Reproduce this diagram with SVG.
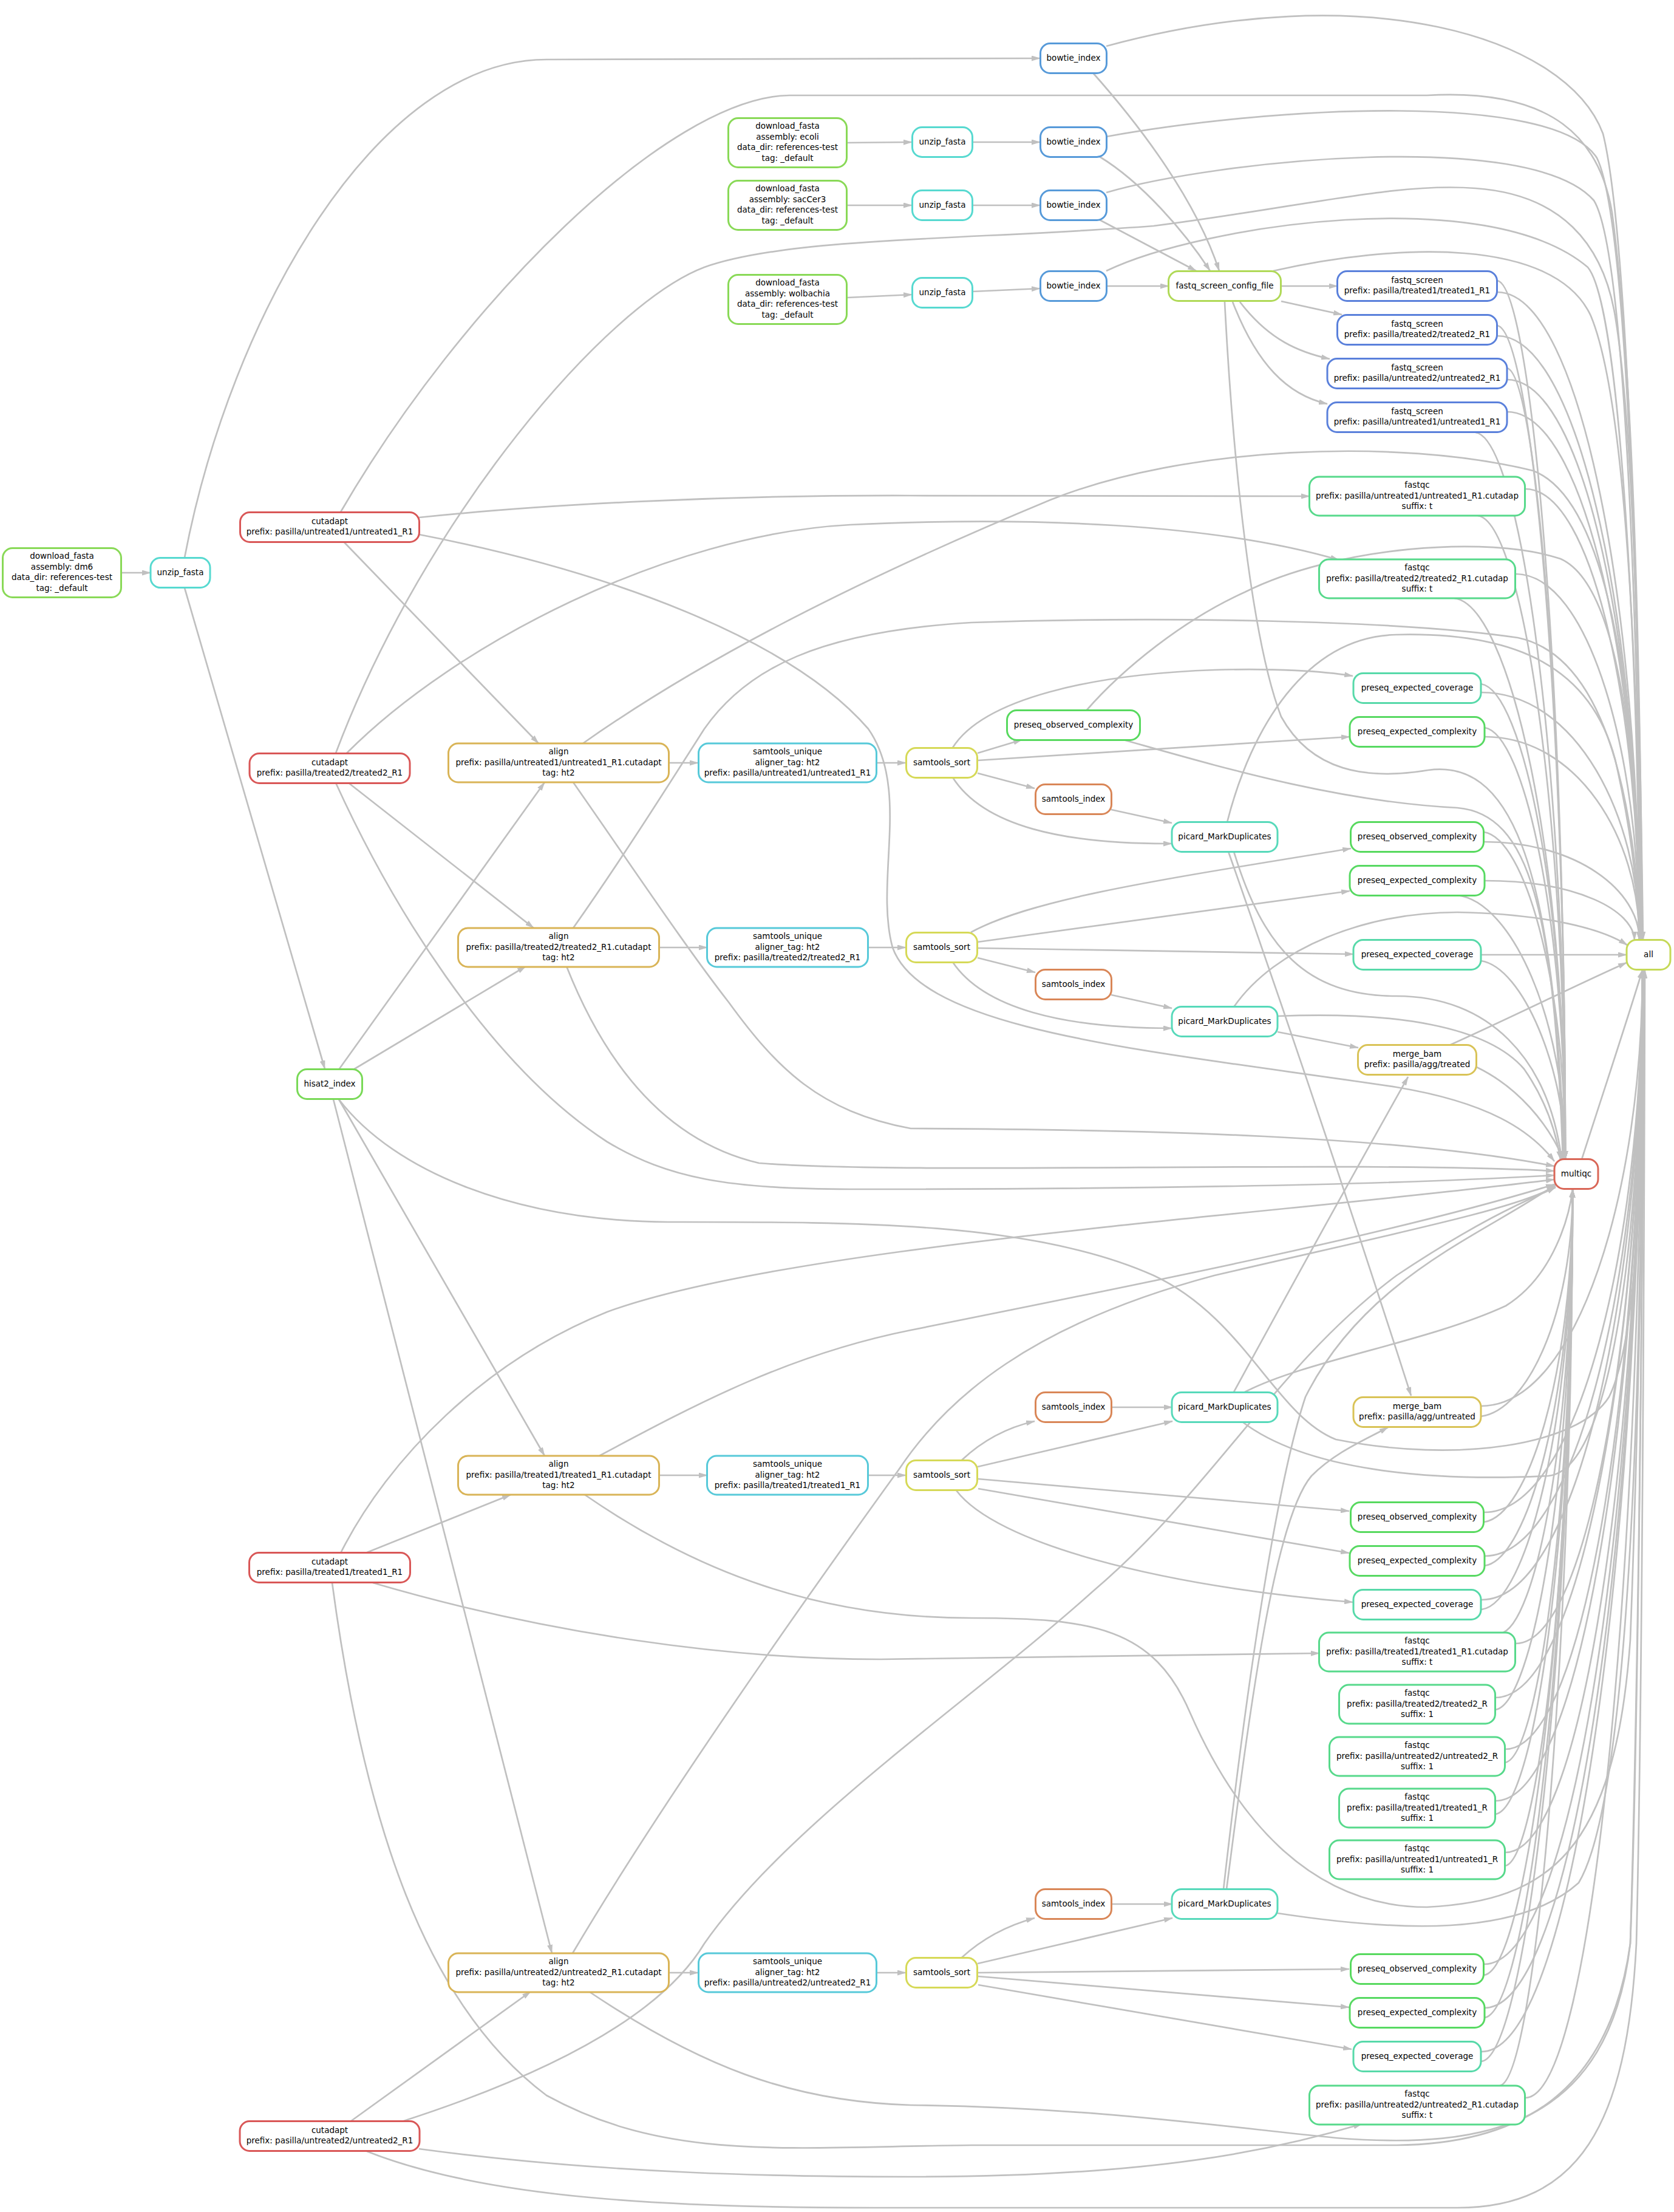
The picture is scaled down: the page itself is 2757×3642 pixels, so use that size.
<svg xmlns="http://www.w3.org/2000/svg" width="2757" height="3642" viewBox="0 0 2757 3642">
<style>
.n rect{fill:#fff;stroke-width:3}
text{font-family:"DejaVu Sans","Liberation Sans",sans-serif;font-size:13.5px;text-anchor:middle;fill:#000}
#edges path{fill:none;stroke:#c0c0c0;stroke-width:2.7;marker-end:url(#ah)}
.dl rect{stroke:#89D957}.uz rect{stroke:#57D9D0}.bt rect{stroke:#579AD9}.fs rect{stroke:#5A80DB}.cf rect{stroke:#B0D957}.fq rect{stroke:#57D98B}.pec rect{stroke:#57D9A9}.poc rect{stroke:#57D95E}.pex rect{stroke:#57D962}.al rect{stroke:#D9B457}.su rect{stroke:#57C9D9}.ss rect{stroke:#D6D957}.si rect{stroke:#D98657}.pic rect{stroke:#57D9BA}.mg rect{stroke:#D9C357}.all rect{stroke:#C5D957}.mq rect{stroke:#D96657}.hs rect{stroke:#79D957}.cu rect{stroke:#D95757}
</style>
<defs>
<marker id="ah" viewBox="0 0 15 9" refX="14" refY="4.5" markerWidth="15" markerHeight="9" markerUnits="userSpaceOnUse" orient="auto"><path d="M0,0 L15,4.5 L0,9 z" fill="#c0c0c0"/></marker>
</defs>
<rect x="0" y="0" width="2757" height="3642" fill="#fff"/>
<g id="edges">
<path d="M200,943 L248,943"/>
<path d="M304,918 C380,520 620,98 900,98 L1713,96"/>
<path d="M304,968 L535,1760"/>
<path d="M1395,235 L1502,234"/>
<path d="M1601,234 L1713,234"/>
<path d="M1395,338 L1502,338"/>
<path d="M1601,338 L1713,338"/>
<path d="M1395,490 L1502,485"/>
<path d="M1601,480 L1713,475"/>
<path d="M1822,471 L1925,471"/>
<path d="M1800,120 C1880,210 1970,330 2008,446"/>
<path d="M1811,258 C1880,300 1950,380 1993,446"/>
<path d="M1811,362 L1970,446"/>
<path d="M2110,471 L2203,471"/>
<path d="M2110,496 L2210,518"/>
<path d="M2042,497 C2090,560 2140,580 2190,591"/>
<path d="M2030,497 C2070,600 2120,650 2186,665"/>
<path d="M1822,76 C2250,-40 2580,60 2640,220 C2680,380 2700,1000 2704,1548"/>
<path d="M1822,225 C2100,175 2560,150 2630,260 C2680,360 2700,1000 2703,1548"/>
<path d="M1822,317 C2000,265 2520,210 2625,330 C2675,410 2698,1000 2702,1548"/>
<path d="M1822,446 C1980,370 2450,300 2615,440 C2665,500 2696,1000 2701,1548"/>
<path d="M2097,446 C2300,400 2560,390 2620,520 C2670,640 2697,1000 2702,1548"/>
<path d="M2017,497 C2030,750 2060,1050 2110,1180 C2160,1270 2250,1285 2352,1268 C2480,1250 2560,1400 2576,1909"/>
<path d="M561,843 C760,500 1100,160 1300,157 L2350,157 C2560,145 2635,230 2655,350 C2688,600 2700,1000 2705,1548"/>
<path d="M553,1240 C700,850 1000,500 1160,440 C1300,390 1600,395 1900,372 C2150,340 2300,300 2430,310 C2570,320 2640,400 2660,520 C2690,700 2700,1100 2706,1548"/>
<path d="M690,852 C900,830 1200,815 1500,816 L2157,817"/>
<path d="M571,1240 C750,1060 1100,880 1400,864 C1700,850 2000,862 2205,922"/>
<path d="M567,893 L887,1224"/>
<path d="M574,1289 L879,1528"/>
<path d="M558,1761 L897,1288"/>
<path d="M582,1761 L866,1591"/>
<path d="M558,1810 L897,2397"/>
<path d="M549,1810 L909,3216"/>
<path d="M602,2557 L841,2461"/>
<path d="M577,3493 L874,3279"/>
<path d="M1101,1256 L1150,1256"/>
<path d="M1085,1560 L1165,1560"/>
<path d="M1085,2429 L1165,2429"/>
<path d="M1101,3248 L1150,3248"/>
<path d="M1443,1256 L1492,1256"/>
<path d="M1430,1560 L1492,1560"/>
<path d="M1430,2429 L1492,2429"/>
<path d="M1443,3248 L1492,3248"/>
<path d="M1610,1240 L1683,1218"/>
<path d="M1610,1252 L2223,1213"/>
<path d="M1569,1231 C1620,1150 1800,1110 2000,1103 C2100,1100 2180,1105 2228,1113"/>
<path d="M1610,1273 L1704,1298"/>
<path d="M1569,1280 C1620,1360 1750,1390 1930,1389"/>
<path d="M1599,1535 C1700,1480 1900,1450 2225,1397"/>
<path d="M1610,1551 L2223,1467"/>
<path d="M1610,1561 L2229,1571"/>
<path d="M1610,1577 L1705,1601"/>
<path d="M1569,1584 C1620,1660 1750,1693 1930,1693"/>
<path d="M1584,2404 C1620,2370 1660,2350 1704,2340"/>
<path d="M1610,2415 L1931,2340"/>
<path d="M1611,2435 L2222,2488"/>
<path d="M1611,2451 L2222,2557"/>
<path d="M1575,2454 C1640,2540 1900,2610 2228,2638"/>
<path d="M1584,3223 C1620,3190 1660,3170 1704,3158"/>
<path d="M1610,3233 L1931,3158"/>
<path d="M1611,3248 L2222,3242"/>
<path d="M1611,3254 L2222,3305"/>
<path d="M1611,3268 L2226,3374"/>
<path d="M1830,1333 L1930,1355"/>
<path d="M1830,1638 L1930,1660"/>
<path d="M1830,2317 L1931,2317"/>
<path d="M1830,3135 L1931,3135"/>
<path d="M2023,1402 Q2180,1850 2324,2298"/>
<path d="M2104,1699 L2237,1725"/>
<path d="M2032,2292 Q2180,2020 2319,1773"/>
<path d="M2020,3111 C2060,2800 2100,2500 2160,2430 C2200,2390 2250,2370 2286,2350"/>
<path d="M1789,1170 C1850,1100 1950,1020 2050,975 C2200,900 2450,880 2570,920 C2660,960 2695,1200 2702,1548"/>
<path d="M1850,1218 C2000,1260 2200,1320 2400,1330 C2520,1340 2560,1500 2574,1909"/>
<path d="M2021,1354 C2060,1200 2150,1048 2300,1045 C2500,1040 2620,1100 2660,1250 C2690,1380 2698,1480 2700,1548"/>
<path d="M2032,1402 C2080,1560 2150,1640 2300,1640 C2450,1640 2550,1740 2572,1909"/>
<path d="M2032,1658 C2100,1560 2250,1502 2400,1502 C2550,1505 2640,1530 2680,1556"/>
<path d="M2104,1673 C2300,1665 2450,1690 2510,1760 C2545,1810 2562,1860 2570,1909"/>
<path d="M2387,1721 C2500,1670 2600,1620 2679,1585"/>
<path d="M2432,1757 C2500,1790 2550,1850 2575,1909"/>
<path d="M2046,2341 C2150,2420 2350,2440 2550,2430 C2660,2420 2703,2000 2705,1597"/>
<path d="M2050,2292 C2150,2240 2350,2210 2480,2150 C2560,2100 2585,2000 2590,1958"/>
<path d="M2104,3150 C2300,3180 2500,3190 2600,3100 C2690,2950 2705,2200 2705,1597"/>
<path d="M2015,3111 C2050,2800 2100,2450 2150,2300 C2250,2100 2450,2030 2562,1950"/>
<path d="M2466,481 C2606,481 2700,1015 2700,1548"/>
<path d="M2466,462 C2522,472 2578,1113 2578,1909"/>
<path d="M2466,553 C2606,553 2700,1050 2700,1548"/>
<path d="M2466,536 C2522,546 2578,1154 2578,1909"/>
<path d="M2482,625 C2613,625 2700,1086 2700,1548"/>
<path d="M2482,606 C2530,616 2578,1192 2578,1909"/>
<path d="M2482,678 C2613,678 2700,1113 2700,1548"/>
<path d="M2430,712 C2504,722 2578,1251 2578,1909"/>
<path d="M2512,805 C2625,805 2700,1176 2700,1548"/>
<path d="M2434,849 C2506,859 2578,1326 2578,1909"/>
<path d="M2496,945 C2618,945 2700,1246 2700,1548"/>
<path d="M2395,985 C2486,995 2578,1401 2578,1909"/>
<path d="M2439,1140 C2596,1140 2700,1344 2700,1548"/>
<path d="M2439,1126 C2508,1136 2578,1478 2578,1909"/>
<path d="M2445,1213 C2598,1213 2700,1380 2700,1548"/>
<path d="M2445,1198 C2511,1208 2578,1518 2578,1909"/>
<path d="M2444,1386 C2598,1386 2700,1467 2700,1548"/>
<path d="M2444,1370 C2511,1380 2578,1613 2578,1909"/>
<path d="M2445,1450 C2598,1450 2690,1499 2692,1548"/>
<path d="M2400,1474 C2489,1484 2578,1677 2578,1909"/>
<path d="M2439,1572 L2679,1572"/>
<path d="M2439,1582 C2508,1592 2578,1762 2578,1909"/>
<path d="M2439,2315 C2599,2315 2705,1956 2705,1597"/>
<path d="M2439,2332 C2515,2322 2590,2164 2590,1958"/>
<path d="M2444,2490 C2601,2490 2705,2044 2705,1597"/>
<path d="M2444,2506 C2517,2496 2590,2261 2590,1958"/>
<path d="M2445,2562 C2601,2562 2705,2080 2705,1597"/>
<path d="M2445,2578 C2517,2568 2590,2299 2590,1958"/>
<path d="M2440,2634 C2599,2634 2705,2116 2705,1597"/>
<path d="M2440,2650 C2515,2640 2590,2339 2590,1958"/>
<path d="M2496,2706 C2621,2706 2705,2152 2705,1597"/>
<path d="M2470,2690 C2530,2680 2590,2361 2590,1958"/>
<path d="M2463,2795 C2608,2795 2705,2196 2705,1597"/>
<path d="M2463,2815 C2526,2805 2590,2430 2590,1958"/>
<path d="M2479,2880 C2615,2880 2705,2238 2705,1597"/>
<path d="M2479,2902 C2534,2892 2590,2477 2590,1958"/>
<path d="M2463,2965 C2608,2965 2705,2281 2705,1597"/>
<path d="M2463,2987 C2526,2977 2590,2553 2590,1958"/>
<path d="M2479,3050 C2615,3050 2705,2323 2705,1597"/>
<path d="M2479,3072 C2534,3062 2590,2571 2590,1958"/>
<path d="M2444,3234 C2601,3234 2705,2415 2705,1597"/>
<path d="M2444,3252 C2517,3242 2590,2637 2590,1958"/>
<path d="M2445,3306 C2601,3306 2705,2451 2705,1597"/>
<path d="M2445,3322 C2517,3312 2590,2672 2590,1958"/>
<path d="M2440,3378 C2599,3378 2705,2487 2705,1597"/>
<path d="M2440,3394 C2515,3384 2590,2704 2590,1958"/>
<path d="M2512,3454 C2628,3454 2705,2525 2705,1597"/>
<path d="M2470,3434 C2530,3424 2590,2698 2590,1958"/>
<path d="M960,1224 C1150,1090 1400,960 1730,823 C1950,735 2300,720 2525,775 C2640,820 2695,1100 2702,1548"/>
<path d="M944,1528 C1020,1420 1090,1310 1160,1200 C1230,1100 1350,1040 1600,1025 C1900,1015 2300,1020 2500,1050 C2640,1080 2690,1300 2703,1548"/>
<path d="M558,1810 C650,1930 850,2010 1100,2012 C1400,2012 1700,2010 1900,2100 C2050,2170 2100,2330 2200,2370 C2400,2410 2600,2380 2650,2300 C2700,2200 2705,1900 2708,1597"/>
<path d="M963,2461 C1150,2590 1350,2664 1600,2664 C1800,2664 1900,2680 1960,2820 C2030,2980 2150,3140 2350,3140 C2550,3130 2660,3050 2685,2700 C2700,2300 2706,1900 2707,1597"/>
<path d="M970,3279 C1150,3400 1300,3460 1500,3466 C1800,3470 2000,3500 2200,3520 C2450,3540 2650,3500 2685,3200 C2700,2700 2706,2000 2708,1597"/>
<path d="M547,2606 C600,3000 700,3300 900,3450 C1100,3560 1300,3535 1600,3532 L2300,3532 C2500,3530 2650,3450 2685,3200 C2700,2800 2705,2000 2708,1597"/>
<path d="M614,2606 C900,2690 1200,2732 1450,2732 L2173,2722"/>
<path d="M604,3542 C800,3620 1100,3635 1442,3635 L2400,3635 C2600,3635 2680,3500 2695,3200 C2705,2800 2708,2000 2709,1597"/>
<path d="M690,3538 C1000,3580 1300,3584 1500,3584 C1900,3584 2100,3540 2243,3497"/>
<path d="M690,880 C1000,940 1300,1050 1430,1200 C1500,1300 1440,1450 1470,1560 C1520,1700 1900,1730 2300,1790 C2450,1815 2520,1860 2560,1912"/>
<path d="M553,1289 C640,1480 800,1750 1000,1880 C1100,1940 1200,1958 1400,1958 C1900,1958 2300,1950 2560,1935"/>
<path d="M944,1288 C1050,1440 1130,1560 1200,1650 C1280,1760 1350,1830 1500,1858 C1900,1860 2300,1870 2560,1920"/>
<path d="M933,1591 C1000,1760 1100,1880 1250,1915 C1500,1935 2200,1910 2560,1928"/>
<path d="M987,2397 C1150,2310 1300,2230 1500,2190 C1900,2110 2300,2030 2560,1950"/>
<path d="M561,2557 C640,2400 800,2240 1000,2160 C1300,2050 2100,2000 2560,1942"/>
<path d="M943,3216 C1100,2950 1350,2600 1480,2420 C1560,2300 1700,2180 2000,2100 C2300,2030 2500,1990 2562,1953"/>
<path d="M662,3493 C950,3400 1100,3300 1160,3200 C1300,3000 1600,2800 1800,2620 C2000,2450 2100,2250 2300,2100 C2450,2000 2530,1970 2562,1955"/>
<path d="M2605,1909 C2640,1800 2680,1680 2705,1597"/>
</g>
<g id="dl_dm6" class="n dl"><rect x="4.5" y="902.5" width="195" height="81" rx="16"/><text x="102" y="920.25">download_fasta</text><text x="102" y="937.75">assembly: dm6</text><text x="102" y="955.25">data_dir: references-test</text><text x="102" y="972.75">tag: _default</text></g>
<g id="unzip_dm6" class="n uz"><rect x="248" y="918.5" width="98" height="49" rx="16"/><text x="297" y="946.5">unzip_fasta</text></g>
<g id="bowtie_0" class="n bt"><rect x="1713.5" y="71.5" width="109" height="49" rx="16"/><text x="1768" y="99.5">bowtie_index</text></g>
<g id="dl_ecoli" class="n dl"><rect x="1199.5" y="194.5" width="195" height="81" rx="16"/><text x="1297" y="212.25">download_fasta</text><text x="1297" y="229.75">assembly: ecoli</text><text x="1297" y="247.25">data_dir: references-test</text><text x="1297" y="264.75">tag: _default</text></g>
<g id="unzip_ecoli" class="n uz"><rect x="1502.5" y="209.5" width="99" height="49" rx="16"/><text x="1552" y="237.5">unzip_fasta</text></g>
<g id="bowtie_1" class="n bt"><rect x="1713.5" y="209.5" width="109" height="49" rx="16"/><text x="1768" y="237.5">bowtie_index</text></g>
<g id="dl_sac" class="n dl"><rect x="1199.5" y="297.5" width="195" height="81" rx="16"/><text x="1297" y="315.25">download_fasta</text><text x="1297" y="332.75">assembly: sacCer3</text><text x="1297" y="350.25">data_dir: references-test</text><text x="1297" y="367.75">tag: _default</text></g>
<g id="unzip_sac" class="n uz"><rect x="1502.5" y="313.5" width="99" height="49" rx="16"/><text x="1552" y="341.5">unzip_fasta</text></g>
<g id="bowtie_2" class="n bt"><rect x="1713.5" y="313.5" width="109" height="49" rx="16"/><text x="1768" y="341.5">bowtie_index</text></g>
<g id="dl_wol" class="n dl"><rect x="1199.5" y="452.5" width="195" height="81" rx="16"/><text x="1297" y="470.25">download_fasta</text><text x="1297" y="487.75">assembly: wolbachia</text><text x="1297" y="505.25">data_dir: references-test</text><text x="1297" y="522.75">tag: _default</text></g>
<g id="unzip_wol" class="n uz"><rect x="1502.5" y="457.5" width="99" height="49" rx="16"/><text x="1552" y="485.5">unzip_fasta</text></g>
<g id="bowtie_3" class="n bt"><rect x="1713.5" y="446.5" width="109" height="49" rx="16"/><text x="1768" y="474.5">bowtie_index</text></g>
<g id="fastq_screen_config_file" class="n cf"><rect x="1924.5" y="446.5" width="185" height="49" rx="16"/><text x="2017" y="474.5">fastq_screen_config_file</text></g>
<g id="fs_t1" class="n fs"><rect x="2202.5" y="446.5" width="263" height="49" rx="16"/><text x="2334" y="465.75">fastq_screen</text><text x="2334" y="483.25">prefix: pasilla/treated1/treated1_R1</text></g>
<g id="fs_t2" class="n fs"><rect x="2202.5" y="518.5" width="263" height="49" rx="16"/><text x="2334" y="537.75">fastq_screen</text><text x="2334" y="555.25">prefix: pasilla/treated2/treated2_R1</text></g>
<g id="fs_u2" class="n fs"><rect x="2186" y="590.5" width="296" height="49" rx="16"/><text x="2334" y="609.75">fastq_screen</text><text x="2334" y="627.25">prefix: pasilla/untreated2/untreated2_R1</text></g>
<g id="fs_u1" class="n fs"><rect x="2186" y="662.5" width="296" height="49" rx="16"/><text x="2334" y="681.75">fastq_screen</text><text x="2334" y="699.25">prefix: pasilla/untreated1/untreated1_R1</text></g>
<g id="fqc_u1c" class="n fq"><rect x="2156.5" y="785" width="355" height="64" rx="16"/><text x="2334" y="803">fastqc</text><text x="2334" y="820.5">prefix: pasilla/untreated1/untreated1_R1.cutadap</text><text x="2334" y="838">suffix: t</text></g>
<g id="fqc_t2c" class="n fq"><rect x="2172.5" y="921" width="323" height="64" rx="16"/><text x="2334" y="939">fastqc</text><text x="2334" y="956.5">prefix: pasilla/treated2/treated2_R1.cutadap</text><text x="2334" y="974">suffix: t</text></g>
<g id="cut_u1" class="n cu"><rect x="395.5" y="843.5" width="295" height="49" rx="16"/><text x="543" y="862.75">cutadapt</text><text x="543" y="880.25">prefix: pasilla/untreated1/untreated1_R1</text></g>
<g id="cut_t2" class="n cu"><rect x="411" y="1240.5" width="264" height="49" rx="16"/><text x="543" y="1259.75">cutadapt</text><text x="543" y="1277.25">prefix: pasilla/treated2/treated2_R1</text></g>
<g id="pec1" class="n pec"><rect x="2229" y="1108.5" width="210" height="49" rx="16"/><text x="2334" y="1136.5">preseq_expected_coverage</text></g>
<g id="poc1" class="n poc"><rect x="1658.5" y="1169.5" width="219" height="49" rx="16"/><text x="1768" y="1197.5">preseq_observed_complexity</text></g>
<g id="pecx1" class="n pex"><rect x="2223" y="1180.5" width="222" height="49" rx="16"/><text x="2334" y="1208.5">preseq_expected_complexity</text></g>
<g id="align_u1" class="n al"><rect x="738.5" y="1224" width="363" height="64" rx="16"/><text x="920" y="1242">align</text><text x="920" y="1259.5">prefix: pasilla/untreated1/untreated1_R1.cutadapt</text><text x="920" y="1277">tag: ht2</text></g>
<g id="su_u1" class="n su"><rect x="1150.5" y="1224" width="293" height="64" rx="16"/><text x="1297" y="1242">samtools_unique</text><text x="1297" y="1259.5">aligner_tag: ht2</text><text x="1297" y="1277">prefix: pasilla/untreated1/untreated1_R1</text></g>
<g id="ss1" class="n ss"><rect x="1492.5" y="1231.5" width="117" height="49" rx="16"/><text x="1551" y="1259.5">samtools_sort</text></g>
<g id="si1" class="n si"><rect x="1705.5" y="1291.5" width="125" height="49" rx="16"/><text x="1768" y="1319.5">samtools_index</text></g>
<g id="pic1" class="n pic"><rect x="1930" y="1353.5" width="174" height="49" rx="16"/><text x="2017" y="1381.5">picard_MarkDuplicates</text></g>
<g id="poc2" class="n poc"><rect x="2224.5" y="1353.5" width="219" height="49" rx="16"/><text x="2334" y="1381.5">preseq_observed_complexity</text></g>
<g id="pecx2" class="n pex"><rect x="2223" y="1425.5" width="222" height="49" rx="16"/><text x="2334" y="1453.5">preseq_expected_complexity</text></g>
<g id="align_t2" class="n al"><rect x="754.5" y="1528" width="331" height="64" rx="16"/><text x="920" y="1546">align</text><text x="920" y="1563.5">prefix: pasilla/treated2/treated2_R1.cutadapt</text><text x="920" y="1581">tag: ht2</text></g>
<g id="su_t2" class="n su"><rect x="1164.5" y="1528" width="265" height="64" rx="16"/><text x="1297" y="1546">samtools_unique</text><text x="1297" y="1563.5">aligner_tag: ht2</text><text x="1297" y="1581">prefix: pasilla/treated2/treated2_R1</text></g>
<g id="ss2" class="n ss"><rect x="1492.5" y="1535.5" width="117" height="49" rx="16"/><text x="1551" y="1563.5">samtools_sort</text></g>
<g id="si2" class="n si"><rect x="1705.5" y="1596.5" width="125" height="49" rx="16"/><text x="1768" y="1624.5">samtools_index</text></g>
<g id="pec2" class="n pec"><rect x="2229" y="1547.5" width="210" height="49" rx="16"/><text x="2334" y="1575.5">preseq_expected_coverage</text></g>
<g id="pic2" class="n pic"><rect x="1930" y="1657.5" width="174" height="49" rx="16"/><text x="2017" y="1685.5">picard_MarkDuplicates</text></g>
<g id="merge_treated" class="n mg"><rect x="2236.5" y="1720.5" width="195" height="49" rx="16"/><text x="2334" y="1739.75">merge_bam</text><text x="2334" y="1757.25">prefix: pasilla/agg/treated</text></g>
<g id="all" class="n all"><rect x="2679" y="1547.5" width="72" height="49" rx="16"/><text x="2715" y="1575.5">all</text></g>
<g id="multiqc" class="n mq"><rect x="2560" y="1908.5" width="72" height="49" rx="16"/><text x="2596" y="1936.5">multiqc</text></g>
<g id="hisat2_index" class="n hs"><rect x="489.5" y="1760.5" width="107" height="49" rx="16"/><text x="543" y="1788.5">hisat2_index</text></g>
<g id="si3" class="n si"><rect x="1705.5" y="2292.5" width="125" height="49" rx="16"/><text x="1768" y="2320.5">samtools_index</text></g>
<g id="pic3" class="n pic"><rect x="1930" y="2292.5" width="174" height="49" rx="16"/><text x="2017" y="2320.5">picard_MarkDuplicates</text></g>
<g id="merge_untreated" class="n mg"><rect x="2229" y="2300.5" width="210" height="49" rx="16"/><text x="2334" y="2319.75">merge_bam</text><text x="2334" y="2337.25">prefix: pasilla/agg/untreated</text></g>
<g id="align_t1" class="n al"><rect x="754.5" y="2397" width="331" height="64" rx="16"/><text x="920" y="2415">align</text><text x="920" y="2432.5">prefix: pasilla/treated1/treated1_R1.cutadapt</text><text x="920" y="2450">tag: ht2</text></g>
<g id="su_t1" class="n su"><rect x="1164.5" y="2397" width="265" height="64" rx="16"/><text x="1297" y="2415">samtools_unique</text><text x="1297" y="2432.5">aligner_tag: ht2</text><text x="1297" y="2450">prefix: pasilla/treated1/treated1_R1</text></g>
<g id="ss3" class="n ss"><rect x="1492.5" y="2404.5" width="117" height="49" rx="16"/><text x="1551" y="2432.5">samtools_sort</text></g>
<g id="poc3" class="n poc"><rect x="2224.5" y="2473.5" width="219" height="49" rx="16"/><text x="2334" y="2501.5">preseq_observed_complexity</text></g>
<g id="pecx3" class="n pex"><rect x="2223" y="2545.5" width="222" height="49" rx="16"/><text x="2334" y="2573.5">preseq_expected_complexity</text></g>
<g id="cut_t1" class="n cu"><rect x="410.5" y="2556.5" width="265" height="49" rx="16"/><text x="543" y="2575.75">cutadapt</text><text x="543" y="2593.25">prefix: pasilla/treated1/treated1_R1</text></g>
<g id="pec3" class="n pec"><rect x="2229" y="2617.5" width="210" height="49" rx="16"/><text x="2334" y="2645.5">preseq_expected_coverage</text></g>
<g id="fqc_t1c" class="n fq"><rect x="2172.5" y="2688" width="323" height="64" rx="16"/><text x="2334" y="2706">fastqc</text><text x="2334" y="2723.5">prefix: pasilla/treated1/treated1_R1.cutadap</text><text x="2334" y="2741">suffix: t</text></g>
<g id="fqc_t2r" class="n fq"><rect x="2205.5" y="2774" width="257" height="64" rx="16"/><text x="2334" y="2792">fastqc</text><text x="2334" y="2809.5">prefix: pasilla/treated2/treated2_R</text><text x="2334" y="2827">suffix: 1</text></g>
<g id="fqc_u2r" class="n fq"><rect x="2189.5" y="2860" width="289" height="64" rx="16"/><text x="2334" y="2878">fastqc</text><text x="2334" y="2895.5">prefix: pasilla/untreated2/untreated2_R</text><text x="2334" y="2913">suffix: 1</text></g>
<g id="fqc_t1r" class="n fq"><rect x="2205.5" y="2945" width="257" height="64" rx="16"/><text x="2334" y="2963">fastqc</text><text x="2334" y="2980.5">prefix: pasilla/treated1/treated1_R</text><text x="2334" y="2998">suffix: 1</text></g>
<g id="fqc_u1r" class="n fq"><rect x="2189.5" y="3030" width="289" height="64" rx="16"/><text x="2334" y="3048">fastqc</text><text x="2334" y="3065.5">prefix: pasilla/untreated1/untreated1_R</text><text x="2334" y="3083">suffix: 1</text></g>
<g id="si4" class="n si"><rect x="1705.5" y="3110.5" width="125" height="49" rx="16"/><text x="1768" y="3138.5">samtools_index</text></g>
<g id="pic4" class="n pic"><rect x="1930" y="3110.5" width="174" height="49" rx="16"/><text x="2017" y="3138.5">picard_MarkDuplicates</text></g>
<g id="align_u2" class="n al"><rect x="738.5" y="3216" width="363" height="64" rx="16"/><text x="920" y="3234">align</text><text x="920" y="3251.5">prefix: pasilla/untreated2/untreated2_R1.cutadapt</text><text x="920" y="3269">tag: ht2</text></g>
<g id="su_u2" class="n su"><rect x="1150.5" y="3216" width="293" height="64" rx="16"/><text x="1297" y="3234">samtools_unique</text><text x="1297" y="3251.5">aligner_tag: ht2</text><text x="1297" y="3269">prefix: pasilla/untreated2/untreated2_R1</text></g>
<g id="ss4" class="n ss"><rect x="1492.5" y="3223.5" width="117" height="49" rx="16"/><text x="1551" y="3251.5">samtools_sort</text></g>
<g id="poc4" class="n poc"><rect x="2224.5" y="3217.5" width="219" height="49" rx="16"/><text x="2334" y="3245.5">preseq_observed_complexity</text></g>
<g id="pecx4" class="n pex"><rect x="2223" y="3289.5" width="222" height="49" rx="16"/><text x="2334" y="3317.5">preseq_expected_complexity</text></g>
<g id="pec4" class="n pec"><rect x="2229" y="3361.5" width="210" height="49" rx="16"/><text x="2334" y="3389.5">preseq_expected_coverage</text></g>
<g id="fqc_u2c" class="n fq"><rect x="2156.5" y="3434" width="355" height="64" rx="16"/><text x="2334" y="3452">fastqc</text><text x="2334" y="3469.5">prefix: pasilla/untreated2/untreated2_R1.cutadap</text><text x="2334" y="3487">suffix: t</text></g>
<g id="cut_u2" class="n cu"><rect x="395" y="3492.5" width="296" height="49" rx="16"/><text x="543" y="3511.75">cutadapt</text><text x="543" y="3529.25">prefix: pasilla/untreated2/untreated2_R1</text></g>
</svg>
